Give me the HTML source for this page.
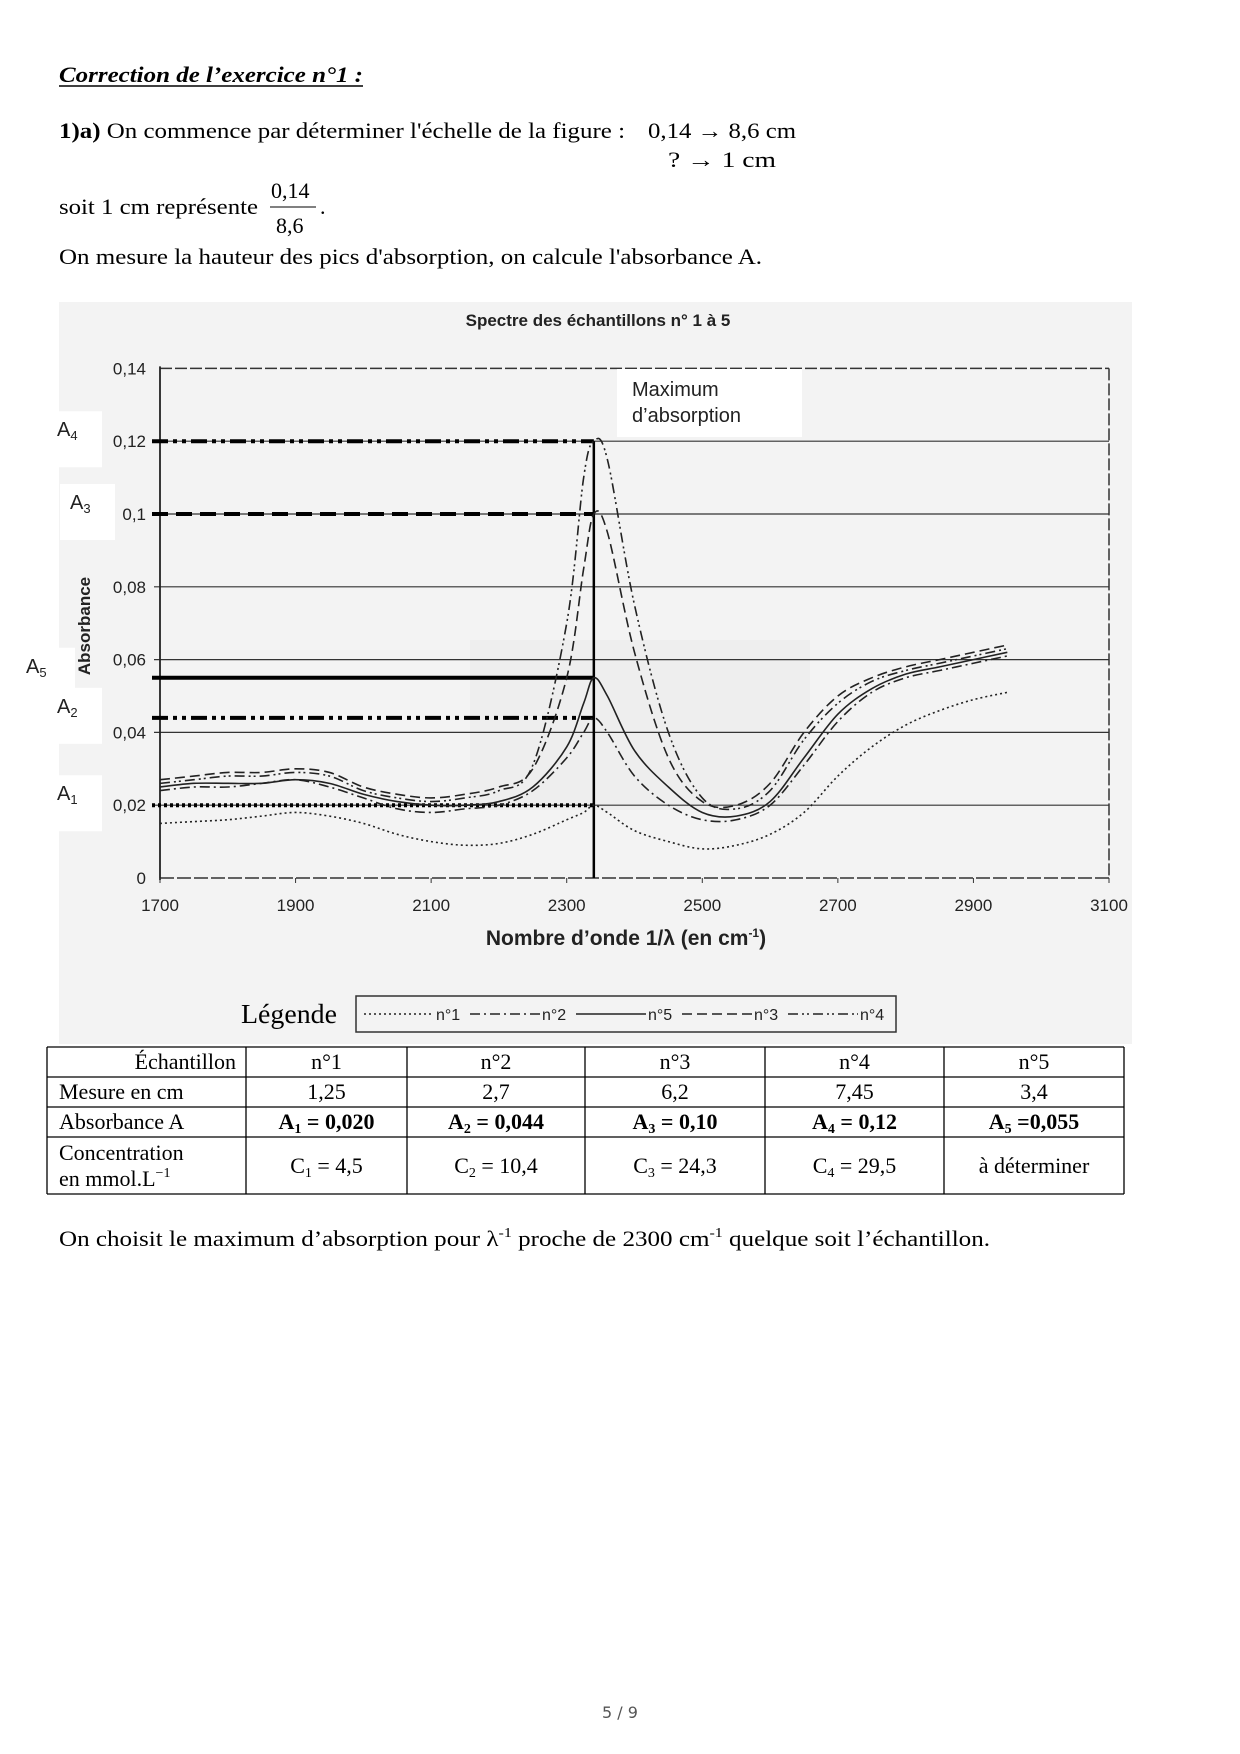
<!DOCTYPE html>
<html><head><meta charset="utf-8"><style>
body{margin:0;background:#fff}
svg{display:block}
.t{font-family:"Liberation Serif",serif;font-size:22px;fill:#000}
.s{font-family:"Liberation Sans",sans-serif;fill:#222}
</style></head><body>
<svg id="pg" width="1240" height="1754" viewBox="0 0 1240 1754">
<text class="t" x="59" y="82" font-style="italic" font-weight="bold" textLength="304" lengthAdjust="spacingAndGlyphs">Correction de l’exercice n°1 :</text>
<line x1="59" y1="86" x2="363" y2="86" stroke="#000" stroke-width="1.5"/>
<text class="t" x="59" y="138" textLength="566" lengthAdjust="spacingAndGlyphs"><tspan font-weight="bold">1)a)</tspan> On commence par déterminer l'échelle de la figure :</text>
<text class="t" x="648" y="138" textLength="148" lengthAdjust="spacingAndGlyphs">0,14 → 8,6 cm</text>
<text class="t" x="668" y="167" textLength="108" lengthAdjust="spacingAndGlyphs">?  → 1 cm</text>
<text class="t" x="59" y="214" textLength="199" lengthAdjust="spacingAndGlyphs">soit 1 cm représente</text>
<text class="t" x="271" y="198">0,14</text>
<line x1="270" y1="207" x2="316" y2="207" stroke="#000" stroke-width="1"/>
<text class="t" x="276" y="233">8,6</text>
<text class="t" x="320" y="214">.</text>
<text class="t" x="59" y="264" textLength="703" lengthAdjust="spacingAndGlyphs">On mesure la hauteur des pics d'absorption, on calcule l'absorbance A.</text>

<rect x="59" y="302" width="1073" height="742" fill="#f3f3f3"/>
<rect x="470" y="640" width="340" height="170" fill="#eeeeee"/>
<text class="s" x="598" y="326" font-size="17" font-weight="bold" text-anchor="middle">Spectre des échantillons n° 1 à 5</text>
<g id="axes"></g>
<g id="marks"></g>
<g id="curves"></g>
<rect x="617" y="369" width="185" height="68" fill="#fff"/>
<text class="s" x="632" y="396" font-size="20" fill="#000">Maximum</text>
<text class="s" x="632" y="422" font-size="20" fill="#000">d’absorption</text>
<g id="alabels"></g>
<text class="s" x="626" y="945" font-size="21" font-weight="bold" text-anchor="middle">Nombre d’onde 1/λ (en cm<tspan font-size="12" dy="-8">-1</tspan><tspan dy="8">)</tspan></text>
<text class="s" transform="translate(90,626) rotate(-90)" font-size="17" font-weight="bold" text-anchor="middle">Absorbance</text>

<text class="t" x="241" y="1023" textLength="96" lengthAdjust="spacingAndGlyphs" style="font-size:27px">Légende</text>
<rect x="356" y="996" width="540" height="36" fill="none" stroke="#333" stroke-width="1.5"/>
<g id="legend"></g>

<g id="table"></g>
<text class="t" x="59" y="1246" textLength="931" lengthAdjust="spacingAndGlyphs">On choisit le maximum d’absorption pour λ<tspan font-size="14" dy="-9">-1</tspan><tspan dy="9"> proche de 2300 cm</tspan><tspan font-size="14" dy="-9">-1</tspan><tspan dy="9"> quelque soit l’échantillon.</tspan></text>
<text x="620" y="1718" font-family="DejaVu Sans, sans-serif" font-size="16" fill="#555" text-anchor="middle">5 / 9</text>
</svg>
<script>
const xTicks=[1700,1900,2100,2300,2500,2700,2900,3100];
const yTicks=[0,0.02,0.04,0.06,0.08,0.1,0.12,0.14];
const yTickLabels=["0","0,02","0,04","0,06","0,08","0,1","0,12","0,14"];
const wn=[1700,1750,1800,1850,1900,1950,2000,2050,2100,2150,2200,2250,2300,2325,2340,2360,2400,2450,2500,2550,2600,2650,2700,2750,2800,2850,2900,2950];
const n1=[0.015,0.0155,0.016,0.017,0.018,0.017,0.015,0.012,0.010,0.009,0.0095,0.012,0.016,0.018,0.020,0.018,0.013,0.010,0.008,0.009,0.012,0.018,0.028,0.036,0.042,0.046,0.049,0.051];
const n2=[0.024,0.025,0.025,0.026,0.027,0.025,0.022,0.019,0.018,0.019,0.020,0.024,0.033,0.040,0.044,0.040,0.028,0.020,0.016,0.016,0.020,0.031,0.043,0.051,0.055,0.057,0.059,0.061];
const n3=[0.027,0.028,0.029,0.029,0.030,0.029,0.025,0.023,0.022,0.023,0.025,0.030,0.055,0.085,0.100,0.095,0.062,0.033,0.021,0.020,0.026,0.040,0.050,0.055,0.058,0.060,0.062,0.064];
const n4=[0.026,0.027,0.028,0.028,0.029,0.028,0.024,0.022,0.021,0.022,0.024,0.031,0.070,0.110,0.120,0.115,0.075,0.040,0.022,0.019,0.024,0.038,0.048,0.054,0.057,0.059,0.061,0.063];
const n5=[0.025,0.026,0.026,0.026,0.027,0.026,0.023,0.021,0.020,0.020,0.021,0.025,0.036,0.048,0.055,0.050,0.035,0.025,0.018,0.017,0.021,0.033,0.045,0.052,0.056,0.058,0.060,0.062];
const peakWn=2340;
const aNames=["A4","A3","A5","A2","A1"];
const aValues=[0.12,0.10,0.055,0.044,0.020];
const tableRows=[["Échantillon","n°1","n°2","n°3","n°4","n°5"],["Mesure en cm","1,25","2,7","6,2","7,45","3,4"]];
const absVals=["0,020","0,044","0,10","0,12","=0,055"];
const concVals=["4,5","10,4","24,3","29,5"];
const NS="http://www.w3.org/2000/svg";
const X=v=>160+(v-1700)*(1109-160)/1400;
const Y=v=>878-v*3640;
function mk(p,tag,attrs){const e=document.createElementNS(NS,tag);for(const k in attrs)e.setAttribute(k,attrs[k]);p.appendChild(e);return e;}
const axes=document.getElementById('axes');
yTicks.forEach((t,i)=>{
 if(i>0&&i<7){const l=mk(axes,'line',{x1:X(1700)-6,x2:X(3100),y1:Y(t),y2:Y(t),stroke:'#333','stroke-width':1.2});
 
 }
 const tx=mk(axes,'text',{x:146,y:Y(t)+6,'text-anchor':'end','font-size':17,class:'s'});tx.textContent=yTickLabels[i];
 
 
});
let e=mk(axes,'line',{x1:X(1700),x2:X(3100),y1:Y(0.14),y2:Y(0.14),stroke:'#333','stroke-width':1.5,'stroke-dasharray':'12,3'});

e=mk(axes,'line',{x1:X(3100),x2:X(3100),y1:Y(0.14),y2:Y(0),stroke:'#333','stroke-width':1.5,'stroke-dasharray':'12,3'});

e=mk(axes,'line',{x1:X(1700),x2:X(3100),y1:Y(0),y2:Y(0),stroke:'#333','stroke-width':1.5,'stroke-dasharray':'14,3'});

e=mk(axes,'line',{x1:X(1700),x2:X(1700),y1:Y(0.14)-2,y2:Y(0)+2,stroke:'#222','stroke-width':1.8});

xTicks.forEach(t=>{const tx=mk(axes,'text',{x:X(t),y:911,'text-anchor':'middle','font-size':17,class:'s'});tx.textContent=t;
 
 
 const tk=mk(axes,'line',{x1:X(t),x2:X(t),y1:Y(0),y2:Y(0)+5,stroke:'#333'});
 
 });
const marks=document.getElementById('marks');
const mdash=['16,5,4,5,4,5','16,8','none','16,5,4,5,4,5','3,3'];
aValues.forEach((v,i)=>{const l=mk(marks,'line',{x1:X(1700)-8,x2:X(peakWn),y1:Y(v),y2:Y(v),stroke:'#000','stroke-width':4,'stroke-dasharray':mdash[i]});
 
 });
e=mk(marks,'line',{x1:X(peakWn),x2:X(peakWn),y1:Y(0.12),y2:Y(0),stroke:'#000','stroke-width':2.5});

const al=document.getElementById('alabels');
aValues.forEach((v,i)=>{const bx=aNames[i]==="A5"?20:(aNames[i]==="A3"?60:47);
 const r=mk(al,'rect',{x:bx,y:Y(v)-30,width:55,height:56,fill:'#fff'});
 
 
 const t=mk(al,'text',{x:bx+(aNames[i]==="A5"?6:10),y:Y(v)-5,'font-size':20,class:'s',fill:'#000'});
 t.innerHTML='A<tspan font-size="13" dy="4">'+aNames[i].slice(1)+'</tspan>';
 
 });
function path(ys){const p=wn.map((w,i)=>[X(w),Y(ys[i])]);let d='M'+p[0][0]+','+p[0][1];
 for(let i=0;i<p.length-1;i++){const p0=p[i-1]||p[i],p1=p[i],p2=p[i+1],p3=p[i+2]||p2;
 d+=' C'+(p1[0]+(p2[0]-p0[0])/6)+','+(p1[1]+(p2[1]-p0[1])/6)+' '+(p2[0]-(p3[0]-p1[0])/6)+','+(p2[1]-(p3[1]-p1[1])/6)+' '+p2[0]+','+p2[1];}
 return d;}
const cv=document.getElementById('curves');
const series=[[n1,'2,3','series-n1'],[n2,'10,4,2,4','series-n2'],[n3,'10,5','series-n3'],[n4,'10,4,2,3,2,4','series-n4'],[n5,'none','series-n5']];
series.forEach(s=>{const p=mk(cv,'path',{d:path(s[0]),fill:'none',stroke:'#222','stroke-width':1.6,'stroke-dasharray':s[1]});
 
 });
const lg=document.getElementById('legend');
const legItems=[['n°1','2,3'],['n°2','10,4,2,4'],['n°5','none'],['n°3','10,5'],['n°4','10,4,2,3,2,4']];
let lx=364;
legItems.forEach(it=>{const l=mk(lg,'line',{x1:lx,x2:lx+70,y1:1014,y2:1014,stroke:'#222','stroke-width':1.5,'stroke-dasharray':it[1]});
 
 
 const t=mk(lg,'text',{x:lx+72,y:1020,'font-size':16,class:'s'});t.textContent=it[0];
 
 
 lx+=106;});
const tb=document.getElementById('table');
const cols=[47,246,407,585,765,944,1124];
const rows=[1047,1077,1107,1137,1194];
rows.forEach(y=>{const l=mk(tb,'line',{x1:47,x2:1124,y1:y,y2:y,stroke:'#000','stroke-width':1.3});
 });
cols.forEach(x=>{const l=mk(tb,'line',{x1:x,x2:x,y1:1047,y2:1194,stroke:'#000','stroke-width':1.3});
 });
function cell(txt,ci,y,bold,html){const cx=(cols[ci]+cols[ci+1])/2;
 const t=mk(tb,'text',{x:ci===0?(cols[0]+12):cx,y:y,'text-anchor':ci===0?'start':'middle',class:'t','font-weight':bold?'bold':'normal'});
 if(html)t.innerHTML=txt;else t.textContent=txt;
 
 }
tableRows.forEach((r,ri)=>r.forEach((c,ci)=>{ if(ri===0&&ci===0){const t=mk(tb,'text',{x:236,y:1069,'text-anchor':'end',class:'t'});t.textContent=c;} else cell(c,ci,rows[ri]+22,false);}));
cell('Absorbance A',0,1129,false);
absVals.forEach((v,i)=>cell('A<tspan font-size="14" dy="4">'+(i+1)+'</tspan><tspan dy="-4"> '+(i===4?'':'= ')+v+'</tspan>',i+1,1129,true,true));
cell('Concentration',0,1160,false);
cell('en mmol.L<tspan font-size="14" dy="-9">−1</tspan>',0,1186,false,true);
concVals.forEach((v,i)=>cell('C<tspan font-size="14" dy="4">'+(i+1)+'</tspan><tspan dy="-4"> = '+v+'</tspan>',i+1,1173,false,true));
cell('à déterminer',5,1173,false);
</script>
</body></html>
